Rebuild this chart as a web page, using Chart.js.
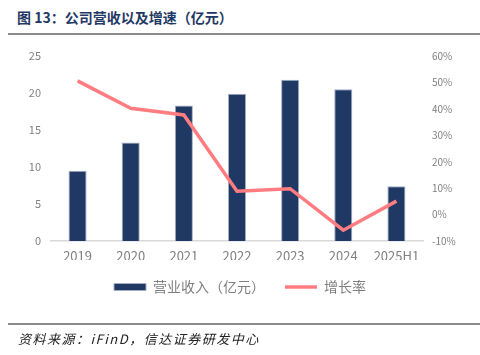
<!DOCTYPE html>
<html>
<head>
<meta charset="utf-8">
<script src="https://cdn.jsdelivr.net/npm/chart.js@4/dist/chart.umd.min.js"></script>
<style>
  html, body { margin: 0; padding: 0; background: #ffffff; }
  body { width: 480px; height: 355px; position: relative; overflow: hidden; font-family: "Noto Sans CJK SC", sans-serif; }
  #title { position: absolute; left: 17px; top: 6px; font-size: 14px; font-weight: bold; color: #1f3864; white-space: nowrap; line-height: 22px; }
  .rule { position: absolute; left: 8px; right: 0; height: 2px; background: #8c8c8c; }
  #source { position: absolute; left: 18px; top: 329px; font-size: 13px; font-style: italic; color: #222; letter-spacing: 1.5px; white-space: nowrap; line-height: 20px; }
  #wrap { position: absolute; left: 0; top: 0; width: 480px; height: 355px; }
</style>
</head>
<body>
<div id="title">图 13：公司营收以及增速（亿元）</div>
<div class="rule" style="top:33px"></div>
<div id="wrap"><canvas id="c" width="480" height="355"></canvas></div>
<div class="rule" style="top:323px"></div>
<div id="source">资料来源：iFinD，信达证券研发中心</div>
<script>
const categories = ["2019", "2020", "2021", "2022", "2023", "2024", "2025H1"];
const revenue = [9.5, 13.3, 18.3, 19.9, 21.8, 20.5, 7.4];
const growth = [50.6, 40.2, 37.7, 8.8, 9.8, -5.9, 5.1];
const revenueLabel = "营业收入（亿元）";
const growthLabel = "增长率";
const leftTicks = [0, 5, 10, 15, 20, 25];
const rightTicks = [-10, 0, 10, 20, 30, 40, 50, 60];

const font = "'Noto Sans CJK SC', 'Noto Sans', sans-serif";
const tickColor = "#808080";

new Chart(document.getElementById("c"), {
  data: {
    labels: categories,
    datasets: [
      {
        type: "bar",
        label: revenueLabel,
        data: revenue,
        yAxisID: "y",
        backgroundColor: "#1f3864",
        borderColor: "#a3adc4",
        borderWidth: 1,
        borderSkipped: "bottom",
        barPercentage: 0.34,
        categoryPercentage: 1,
        pointStyle: "rect",
        order: 1
      },
      {
        type: "line",
        label: growthLabel,
        data: growth,
        yAxisID: "y1",
        borderColor: "#ff7c80",
        backgroundColor: "#ff7c80",
        borderWidth: 3.5,
        pointRadius: 0,
        tension: 0,
        pointStyle: "line",
        order: 0
      }
    ]
  },
  options: {
    responsive: false,
    animation: false,
    devicePixelRatio: 1,
    layout: { padding: { top: 56, left: 0, right: 0, bottom: 51 } },
    plugins: {
      title: { display: false },
      tooltip: { enabled: false },
      legend: {
        position: "bottom",
        labels: {
          usePointStyle: true,
          pointStyleWidth: 32,
          boxHeight: 7,
          padding: 20,
          color: "#7f7f7f",
          font: { family: font, size: 14 },
          sort: (a, b) => a.datasetIndex - b.datasetIndex
        }
      }
    },
    scales: {
      x: {
        grid: { display: false, drawTicks: false },
        border: { display: true, color: "#d9d9d9", width: 1.5 },
        ticks: { color: tickColor, font: { family: font, size: 13 }, padding: 7, maxRotation: 0, autoSkip: false },
        afterFit: (s) => { s.height = 19; }
      },
      y: {
        position: "left",
        min: 0, max: 25,
        grid: { display: false, drawTicks: false },
        border: { display: false },
        afterBuildTicks: (s) => { s.ticks = leftTicks.map(v => ({ value: v })); },
        ticks: { color: tickColor, font: { family: font, size: 11 }, padding: 10 },
        afterFit: (s) => { s.width = 51; }
      },
      y1: {
        position: "right",
        min: -10, max: 60,
        grid: { display: false, drawTicks: false },
        border: { display: false },
        afterBuildTicks: (s) => { s.ticks = rightTicks.map(v => ({ value: v })); },
        ticks: { color: tickColor, font: { family: font, size: 10 }, padding: 9, callback: (v) => v + "%" },
        afterFit: (s) => { s.width = 57; }
      }
    }
  }
});
</script>
</body>
</html>
